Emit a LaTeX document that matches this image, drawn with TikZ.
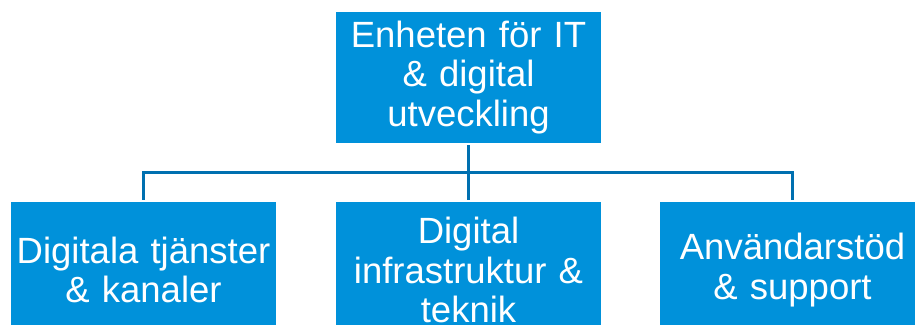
\documentclass[tikz,border=0pt]{standalone}
\usepackage{fontspec}
\setmainfont{Liberation Sans}
\usepackage{tikz}

\definecolor{boxblue}{HTML}{0091DA}
\definecolor{lineblue}{HTML}{0070B0}

\tikzset{
  unit/.style={fill=boxblue, text=white, inner sep=0pt, align=center,
    minimum width=265pt, text width=263pt,
    font=\fontsize{36.5}{39.5}\selectfont},
  conn/.style={draw=lineblue, line width=3pt, shorten <=2pt, shorten >=2pt}
}

\begin{document}
\begin{tikzpicture}[x=1pt,y=-1pt]
      \useasboundingbox (0,0) rectangle (915,324);
      \node[unit, minimum height=131pt] (top) at (468.5,77.5) {Enheten för IT\\ \& digital\\ utveckling};
      \node[unit, minimum height=136pt] (kanaler) at (143.5,270) {Digitala tjänster\\ \& kanaler};
      \node[unit, minimum height=136pt] (teknik) at (468.5,270) {Digital\\ infrastruktur \&\\ teknik};
      \node[unit, minimum height=136pt] (support) at (792.5,270) {Användarstöd\\ \& support};
      \coordinate (bar) at (468.5,172);
      \draw[conn] (top.south) -- (teknik.north);
      \draw[conn] (kanaler.north) |- (bar) -| (support.north);
\end{tikzpicture}
\end{document}
